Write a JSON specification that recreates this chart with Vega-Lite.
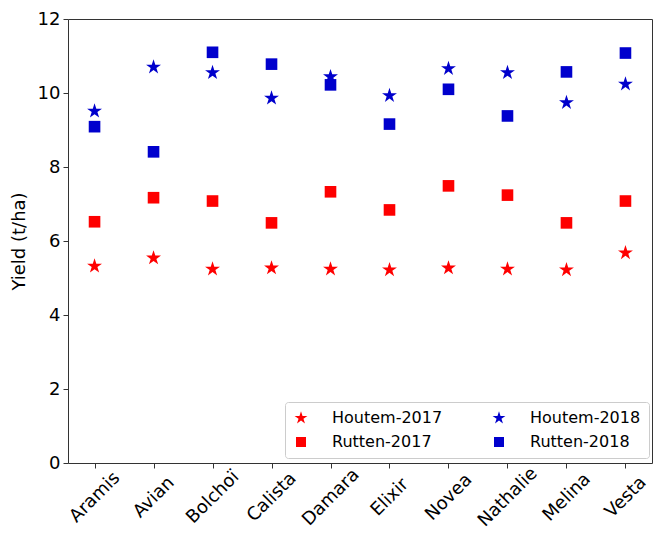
{
  "$schema": "https://vega.github.io/schema/vega-lite/v6.json",
  "width": 584,
  "height": 444,
  "autosize": {"type": "none"},
  "padding": {"left": 68, "top": 19, "right": 1, "bottom": 71},
  "background": "white",
  "config": {"view": {"stroke": "#333", "strokeWidth": 1}, "font": "DejaVu Sans"},
  "data": {"values": [
    {"variety": "Aramis", "series": "Houtem-2017", "value": 5.32},
    {"variety": "Avian", "series": "Houtem-2017", "value": 5.54},
    {"variety": "Bolchoï", "series": "Houtem-2017", "value": 5.24},
    {"variety": "Calista", "series": "Houtem-2017", "value": 5.27},
    {"variety": "Damara", "series": "Houtem-2017", "value": 5.24},
    {"variety": "Elixir", "series": "Houtem-2017", "value": 5.22},
    {"variety": "Novea", "series": "Houtem-2017", "value": 5.27},
    {"variety": "Nathalie", "series": "Houtem-2017", "value": 5.24},
    {"variety": "Melina", "series": "Houtem-2017", "value": 5.22},
    {"variety": "Vesta", "series": "Houtem-2017", "value": 5.68},
    {"variety": "Aramis", "series": "Rutten-2017", "value": 6.52},
    {"variety": "Avian", "series": "Rutten-2017", "value": 7.17},
    {"variety": "Bolchoï", "series": "Rutten-2017", "value": 7.08},
    {"variety": "Calista", "series": "Rutten-2017", "value": 6.49},
    {"variety": "Damara", "series": "Rutten-2017", "value": 7.33},
    {"variety": "Elixir", "series": "Rutten-2017", "value": 6.84},
    {"variety": "Novea", "series": "Rutten-2017", "value": 7.49},
    {"variety": "Nathalie", "series": "Rutten-2017", "value": 7.24},
    {"variety": "Melina", "series": "Rutten-2017", "value": 6.49},
    {"variety": "Vesta", "series": "Rutten-2017", "value": 7.08},
    {"variety": "Aramis", "series": "Houtem-2018", "value": 9.51},
    {"variety": "Avian", "series": "Houtem-2018", "value": 10.70},
    {"variety": "Bolchoï", "series": "Houtem-2018", "value": 10.55},
    {"variety": "Calista", "series": "Houtem-2018", "value": 9.86},
    {"variety": "Damara", "series": "Houtem-2018", "value": 10.44},
    {"variety": "Elixir", "series": "Houtem-2018", "value": 9.93},
    {"variety": "Novea", "series": "Houtem-2018", "value": 10.66},
    {"variety": "Nathalie", "series": "Houtem-2018", "value": 10.55},
    {"variety": "Melina", "series": "Houtem-2018", "value": 9.74},
    {"variety": "Vesta", "series": "Houtem-2018", "value": 10.24},
    {"variety": "Aramis", "series": "Rutten-2018", "value": 9.09},
    {"variety": "Avian", "series": "Rutten-2018", "value": 8.41},
    {"variety": "Bolchoï", "series": "Rutten-2018", "value": 11.10},
    {"variety": "Calista", "series": "Rutten-2018", "value": 10.78},
    {"variety": "Damara", "series": "Rutten-2018", "value": 10.22},
    {"variety": "Elixir", "series": "Rutten-2018", "value": 9.16},
    {"variety": "Novea", "series": "Rutten-2018", "value": 10.10},
    {"variety": "Nathalie", "series": "Rutten-2018", "value": 9.38},
    {"variety": "Melina", "series": "Rutten-2018", "value": 10.57},
    {"variety": "Vesta", "series": "Rutten-2018", "value": 11.08}
  ]},
  "mark": {"type": "point", "filled": true, "opacity": 1, "size": 135},
  "encoding": {
    "x": {
      "field": "variety", "type": "nominal", "sort": null,
      "scale": {"type": "point", "padding": 0.45},
      "axis": {"title": null, "labelAngle": -45, "labelAlign": "center", "labelBaseline": "middle", "labelFontSize": 18, "labelColor": "#000", "tickColor": "#333", "tickSize": 5, "domain": false, "grid": false, "labelPadding": 29}
    },
    "y": {
      "field": "value", "type": "quantitative",
      "scale": {"domain": [0, 12], "nice": false},
      "axis": {"title": "Yield (t/ha)", "titleFontSize": 18, "titleFontWeight": "normal", "titleColor": "#000", "titlePadding": 9, "values": [0, 2, 4, 6, 8, 10, 12], "grid": false, "domain": false, "labelFontSize": 18, "labelColor": "#000", "tickColor": "#333", "tickSize": 5, "labelPadding": 3}
    },
    "color": {
      "field": "series", "type": "nominal",
      "scale": {"domain": ["Houtem-2017", "Rutten-2017", "Houtem-2018", "Rutten-2018"], "range": ["#ff0000", "#fe0000", "#0000cc", "#0000cd"]},
      "legend": {"orient": "none", "legendX": 217, "legendY": 383, "columns": 2, "title": null, "labelFontSize": 16, "labelColor": "#000", "strokeColor": "#ccc", "fillColor": "white", "padding": 8, "cornerRadius": 3, "rowPadding": 8, "columnPadding": 48, "labelOffset": 23, "symbolStrokeWidth": 0, "symbolOpacity": 1}
    },
    "shape": {
      "field": "series", "type": "nominal",
      "scale": {"domain": ["Houtem-2017", "Rutten-2017", "Houtem-2018", "Rutten-2018"], "range": ["M0,-1.35L0.304,-0.417L1.284,-0.417L0.49,0.159L0.794,1.092L0,0.516L-0.794,1.092L-0.49,0.159L-1.284,-0.417L-0.304,-0.417Z", "square", "M0,-1.35L0.304,-0.417L1.284,-0.417L0.49,0.159L0.794,1.092L0,0.516L-0.794,1.092L-0.49,0.159L-1.284,-0.417L-0.304,-0.417Z", "square"]}
    }
  }
}
